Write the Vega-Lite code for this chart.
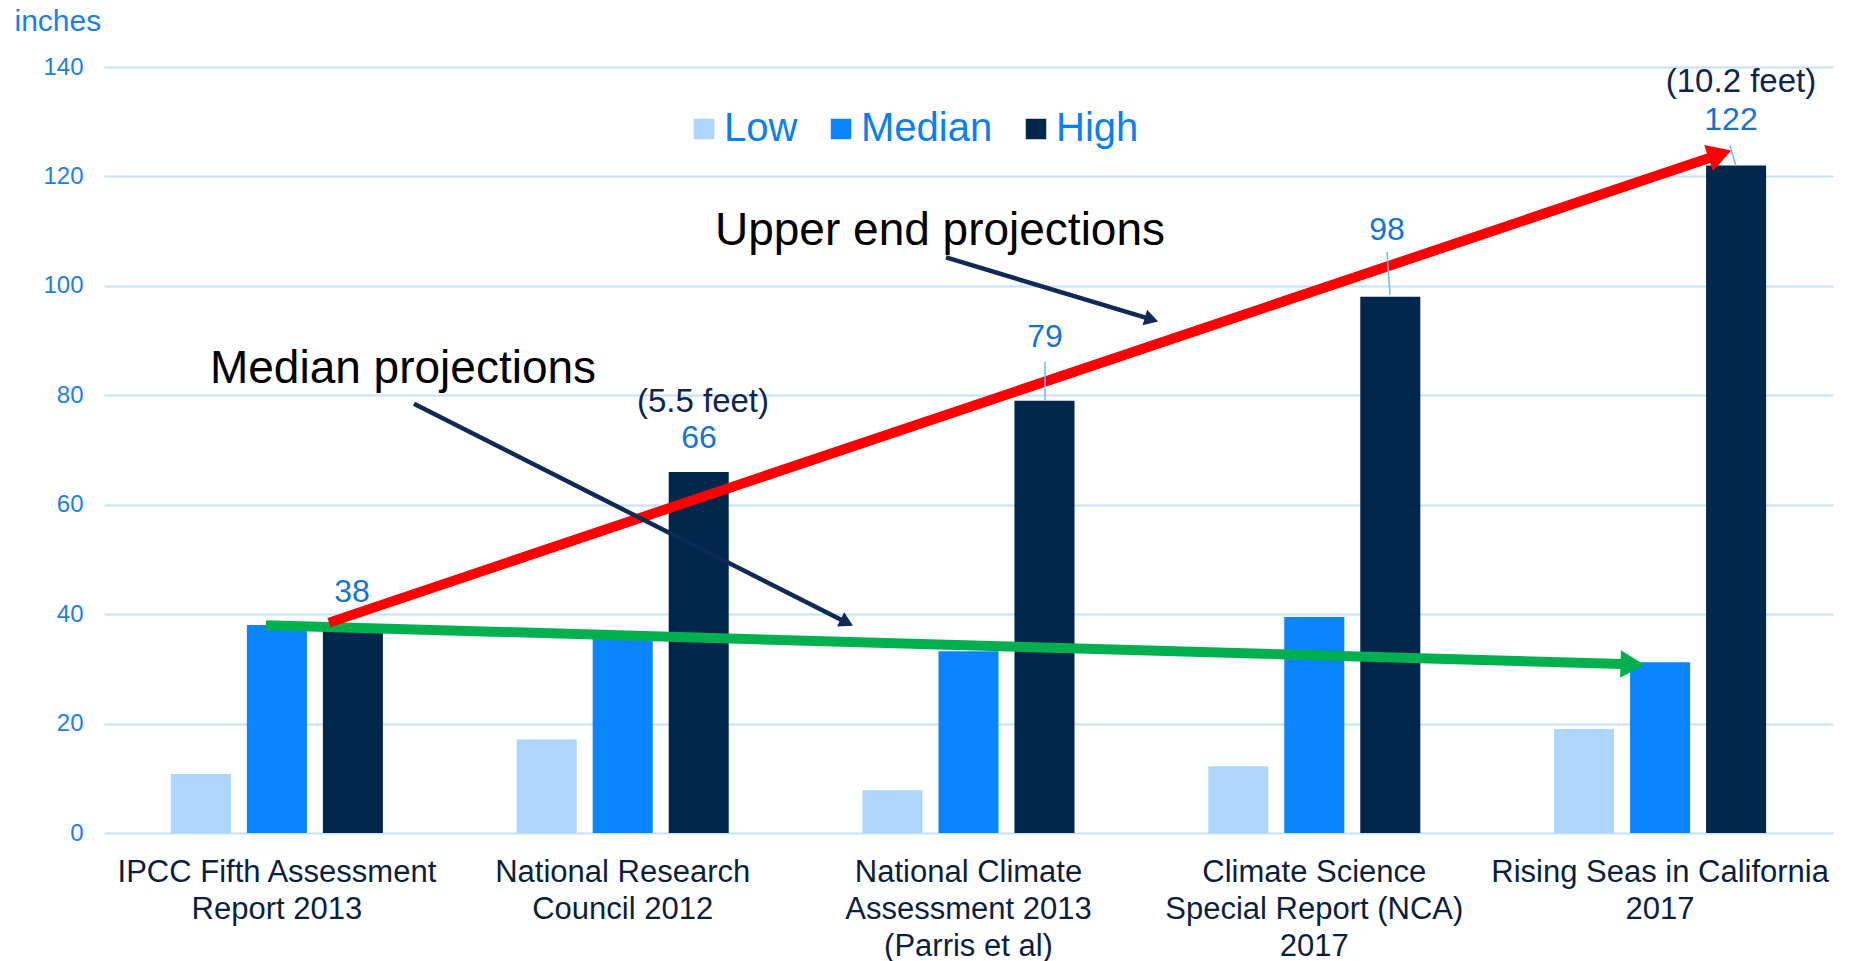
{
  "$schema": "https://vega.github.io/schema/vega-lite/v6.json",
  "width": 1729,
  "height": 766,
  "autosize": {"type": "none"},
  "padding": {"left": 104, "top": 67, "right": 21, "bottom": 128},
  "config": {
    "font": "Liberation Sans",
    "view": {"stroke": null},
    "axisY": {
      "domain": false, "ticks": false, "grid": true, "gridColor": "#c5e0fb", "gridWidth": 2,
      "labelColor": "#1a7fe8", "labelFontSize": 24, "labelPadding": 21,
      "titleColor": "#1a7fe8", "titleFontSize": 30, "titleFontWeight": "normal",
      "titleAngle": 0, "titleAlign": "left", "titleBaseline": "middle", "titleX": -90, "titleY": -46
    }
  },
  "datasets": {
    "bars": [
      {"group": "IPCC Fifth Assessment|Report 2013", "series": "Low", "value": 10.8},
      {"group": "IPCC Fifth Assessment|Report 2013", "series": "Median", "value": 38},
      {"group": "IPCC Fifth Assessment|Report 2013", "series": "High", "value": 38},
      {"group": "National Research|Council 2012", "series": "Low", "value": 17.1},
      {"group": "National Research|Council 2012", "series": "Median", "value": 36},
      {"group": "National Research|Council 2012", "series": "High", "value": 66},
      {"group": "National Climate|Assessment 2013|(Parris et al)", "series": "Low", "value": 7.8},
      {"group": "National Climate|Assessment 2013|(Parris et al)", "series": "Median", "value": 33.2},
      {"group": "National Climate|Assessment 2013|(Parris et al)", "series": "High", "value": 79},
      {"group": "Climate Science|Special Report (NCA)|2017", "series": "Low", "value": 12.2},
      {"group": "Climate Science|Special Report (NCA)|2017", "series": "Median", "value": 39.5},
      {"group": "Climate Science|Special Report (NCA)|2017", "series": "High", "value": 98},
      {"group": "Rising Seas in California|2017", "series": "Low", "value": 19.0},
      {"group": "Rising Seas in California|2017", "series": "Median", "value": 31.2},
      {"group": "Rising Seas in California|2017", "series": "High", "value": 122}
    ],
    "arrows": [
      {"name": "red", "x1": 0.6507, "y1": 38.45, "x2": 4.644, "y2": 123.4, "hx": 4.662, "hy": 123.8},
      {"name": "green", "x1": 0.4685, "y1": 37.99, "x2": 4.3901, "y2": 30.87, "hx": 4.4086, "hy": 30.84},
      {"name": "upper", "x1": 2.435, "y1": 105.2, "x2": 3.0145, "y2": 94.14, "hx": 3.0228, "hy": 93.97},
      {"name": "median", "x1": 0.8965, "y1": 78.45, "x2": 2.1345, "y2": 38.9, "hx": 2.1421, "hy": 38.66}
    ],
    "leaders": [
      {"x1": 2.7212, "y1": 86.12, "x2": 2.7212, "y2": 79.0},
      {"x1": 3.7102, "y1": 106.2, "x2": 3.7189, "y2": 98.36},
      {"x1": 4.7021, "y1": 125.6, "x2": 4.7195, "y2": 121.9}
    ],
    "labels": [
      {"text": "38", "role": "value", "x": 0.7172, "y": 44.11},
      {"text": "66", "role": "value", "x": 1.7206, "y": 72.24},
      {"text": "79", "role": "value", "x": 2.7212, "y": 90.68},
      {"text": "98", "role": "value", "x": 3.7102, "y": 110.2},
      {"text": "122", "role": "value", "x": 4.705, "y": 130.3},
      {"text": "(5.5 feet)", "role": "feet", "x": 1.7322, "y": 78.81},
      {"text": "(10.2 feet)", "role": "feet", "x": 4.7339, "y": 137.3},
      {"text": "Upper end projections", "role": "note", "x": 2.4176, "y": 110.1},
      {"text": "Median projections", "role": "note", "x": 0.8647, "y": 84.84}
    ]
  },
  "layer": [
    {
      "data": {"name": "bars"},
      "mark": {"type": "bar"},
      "encoding": {
        "x": {
          "field": "group", "type": "nominal", "sort": null, "title": null,
          "scale": {"paddingInner": 0.3407, "paddingOuter": 0.17035},
          "axis": {
            "labelExpr": "split(datum.value, '|')", "domain": false, "ticks": false, "grid": false,
            "labelFontSize": 31, "labelColor": "#0c1f3d", "labelLineHeight": 37, "labelPadding": 24,
            "labelAngle": 0, "labelLimit": 500, "labelOverlap": false, "labelBaseline": "top"
          }
        },
        "xOffset": {
          "field": "series", "type": "nominal", "sort": ["Low", "Median", "High"],
          "scale": {"paddingInner": 0.21, "paddingOuter": 0.105}
        },
        "y": {
          "field": "value", "type": "quantitative", "title": "inches",
          "scale": {"domain": [0, 140], "nice": false},
          "axis": {"values": [0, 20, 40, 60, 80, 100, 120, 140]}
        },
        "color": {
          "field": "series", "type": "nominal",
          "scale": {"domain": ["Low", "Median", "High"], "range": ["#aed6fc", "#0b84ff", "#01274c"]},
          "legend": {
            "title": null, "orient": "none", "legendX": 580, "legendY": 42, "direction": "horizontal",
            "symbolType": "square", "symbolSize": 420, "symbolStrokeWidth": 0,
            "labelFontSize": 40, "labelColor": "#0a7ff5", "labelOffset": 0, "columnPadding": 23
          }
        }
      }
    },
    {
      "data": {"name": "arrows"},
      "transform": [{"filter": "datum.name == 'green'"}],
      "mark": {"type": "rule", "color": "#00b04f", "strokeWidth": 10},
      "encoding": {
        "x": {"field": "x1", "type": "quantitative", "scale": {"domain": [0, 5], "nice": false, "zero": false}, "axis": null},
        "x2": {"field": "x2"},
        "y": {"field": "y1", "type": "quantitative", "title": "inches", "scale": {"domain": [0, 140], "nice": false}},
        "y2": {"field": "y2"}
      }
    },
    {
      "data": {"name": "arrows"},
      "transform": [{"filter": "datum.name == 'green'"}],
      "mark": {"type": "point", "shape": "triangle", "filled": true, "opacity": 1, "color": "#00b04f", "size": 760, "angle": 91.65},
      "encoding": {
        "x": {"field": "hx", "type": "quantitative", "scale": {"domain": [0, 5], "nice": false, "zero": false}, "axis": null},
        "y": {"field": "hy", "type": "quantitative", "title": "inches", "scale": {"domain": [0, 140], "nice": false}}
      }
    },
    {
      "data": {"name": "arrows"},
      "transform": [{"filter": "datum.name == 'red'"}],
      "mark": {"type": "rule", "color": "#ff0000", "strokeWidth": 10},
      "encoding": {
        "x": {"field": "x1", "type": "quantitative", "scale": {"domain": [0, 5], "nice": false, "zero": false}, "axis": null},
        "x2": {"field": "x2"},
        "y": {"field": "y1", "type": "quantitative", "title": "inches", "scale": {"domain": [0, 140], "nice": false}},
        "y2": {"field": "y2"}
      }
    },
    {
      "data": {"name": "arrows"},
      "transform": [{"filter": "datum.name == 'red'"}],
      "mark": {"type": "point", "shape": "triangle", "filled": true, "opacity": 1, "color": "#ff0000", "size": 760, "angle": 71.38},
      "encoding": {
        "x": {"field": "hx", "type": "quantitative", "scale": {"domain": [0, 5], "nice": false, "zero": false}, "axis": null},
        "y": {"field": "hy", "type": "quantitative", "title": "inches", "scale": {"domain": [0, 140], "nice": false}}
      }
    },
    {
      "data": {"name": "arrows"},
      "transform": [{"filter": "datum.name == 'upper' || datum.name == 'median'"}],
      "mark": {"type": "rule", "color": "#0f2a56", "strokeWidth": 4.5},
      "encoding": {
        "x": {"field": "x1", "type": "quantitative", "scale": {"domain": [0, 5], "nice": false, "zero": false}, "axis": null},
        "x2": {"field": "x2"},
        "y": {"field": "y1", "type": "quantitative", "title": "inches", "scale": {"domain": [0, 140], "nice": false}},
        "y2": {"field": "y2"}
      }
    },
    {
      "data": {"name": "arrows"},
      "transform": [{"filter": "datum.name == 'upper'"}],
      "mark": {"type": "point", "shape": "triangle", "filled": true, "opacity": 1, "color": "#0f2a56", "size": 256, "angle": 106.7},
      "encoding": {
        "x": {"field": "hx", "type": "quantitative", "scale": {"domain": [0, 5], "nice": false, "zero": false}, "axis": null},
        "y": {"field": "hy", "type": "quantitative", "title": "inches", "scale": {"domain": [0, 140], "nice": false}}
      }
    },
    {
      "data": {"name": "arrows"},
      "transform": [{"filter": "datum.name == 'median'"}],
      "mark": {"type": "point", "shape": "triangle", "filled": true, "opacity": 1, "color": "#0f2a56", "size": 256, "angle": 116.8},
      "encoding": {
        "x": {"field": "hx", "type": "quantitative", "scale": {"domain": [0, 5], "nice": false, "zero": false}, "axis": null},
        "y": {"field": "hy", "type": "quantitative", "title": "inches", "scale": {"domain": [0, 140], "nice": false}}
      }
    },
    {
      "data": {"name": "leaders"},
      "mark": {"type": "rule", "color": "#72b6f5", "strokeWidth": 1.5},
      "encoding": {
        "x": {"field": "x1", "type": "quantitative", "scale": {"domain": [0, 5], "nice": false, "zero": false}, "axis": null},
        "x2": {"field": "x2"},
        "y": {"field": "y1", "type": "quantitative", "title": "inches", "scale": {"domain": [0, 140], "nice": false}},
        "y2": {"field": "y2"}
      }
    },
    {
      "data": {"name": "labels"},
      "transform": [{"filter": "datum.role == 'value'"}],
      "mark": {"type": "text", "color": "#1473d8", "fontSize": 32, "align": "center", "baseline": "middle"},
      "encoding": {
        "x": {"field": "x", "type": "quantitative", "scale": {"domain": [0, 5], "nice": false, "zero": false}, "axis": null},
        "y": {"field": "y", "type": "quantitative", "title": "inches", "scale": {"domain": [0, 140], "nice": false}},
        "text": {"field": "text"}
      }
    },
    {
      "data": {"name": "labels"},
      "transform": [{"filter": "datum.role == 'feet'"}],
      "mark": {"type": "text", "color": "#0d2550", "fontSize": 33, "align": "center", "baseline": "middle"},
      "encoding": {
        "x": {"field": "x", "type": "quantitative", "scale": {"domain": [0, 5], "nice": false, "zero": false}, "axis": null},
        "y": {"field": "y", "type": "quantitative", "title": "inches", "scale": {"domain": [0, 140], "nice": false}},
        "text": {"field": "text"}
      }
    },
    {
      "data": {"name": "labels"},
      "transform": [{"filter": "datum.role == 'note'"}],
      "mark": {"type": "text", "color": "#000000", "fontSize": 46, "align": "center", "baseline": "middle"},
      "encoding": {
        "x": {"field": "x", "type": "quantitative", "scale": {"domain": [0, 5], "nice": false, "zero": false}, "axis": null},
        "y": {"field": "y", "type": "quantitative", "title": "inches", "scale": {"domain": [0, 140], "nice": false}},
        "text": {"field": "text"}
      }
    }
  ],
  "resolve": {"scale": {"x": "independent", "xOffset": "independent", "color": "independent"}, "axis": {"x": "independent"}}
}
